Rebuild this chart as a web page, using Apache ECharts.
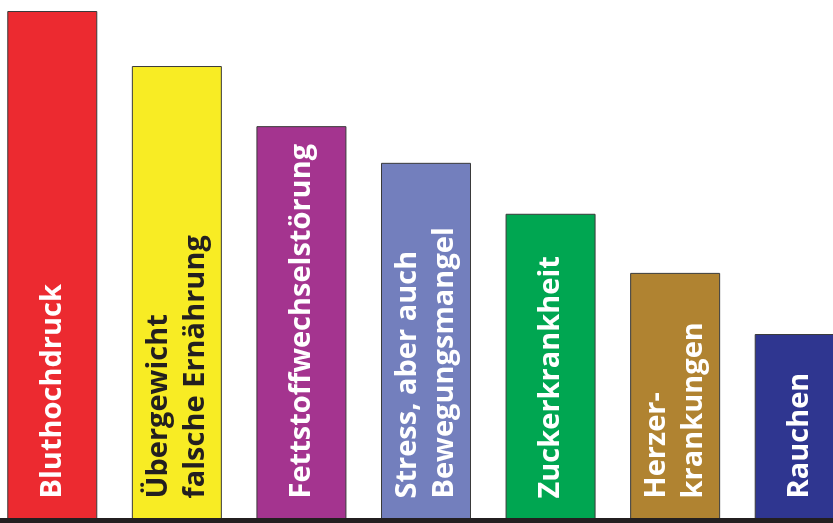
<!DOCTYPE html>
<html>
<head>
<meta charset="utf-8">
<script src="https://cdn.jsdelivr.net/npm/echarts@6/dist/echarts.min.js"></script>
<style>html,body{margin:0;padding:0;background:#fff}#c{width:833px;height:523px}</style>
</head>
<body>
<div id="c"></div>
<script>
const categories = ['Bluthochdruck', 'Übergewicht\nfalsche Ernährung', 'Fettstoffwechselstörung', 'Stress, aber auch\nBewegungsmangel', 'Zuckerkrankheit', 'Herzer-\nkrankungen', 'Rauchen'];
const values = [100, 89.2, 77.4, 70.2, 60.2, 48.6, 36.6];
const barColors = ['#ec2a30', '#f8ec24', '#a4348f', '#737fbd', '#00a651', '#b08331', '#2f3690'];
const labelColors = ['#ffffff', '#231f20', '#ffffff', '#ffffff', '#ffffff', '#ffffff', '#ffffff'];

const chart = echarts.init(document.getElementById('c'), null, {renderer: 'canvas'});
chart.setOption({
  animation: false,
  backgroundColor: '#ffffff',
  grid: {left: -10, right: -29, top: 11, bottom: 2.5, outerBoundsMode: 'none', containLabel: false},
  xAxis: {
    type: 'category',
    data: categories,
    z: 10,
    axisLine: {show: true, lineStyle: {color: '#231f20', width: 5}},
    axisTick: {show: false},
    axisLabel: {show: false},
    splitLine: {show: false}
  },
  yAxis: {
    type: 'value', min: 0, max: 100, show: false,
    splitLine: {show: false}
  },
  series: [{
    type: 'bar',
    barWidth: 90,
    data: values.map((v, i) => ({
      value: v,
      itemStyle: {color: barColors[i], borderColor: '#3a3a3a', borderWidth: 1},
      label: {color: labelColors[i]}
    })),
    label: {
      show: true,
      position: 'insideBottom',
      distance: 22,
      rotate: 90,
      align: 'left',
      verticalAlign: 'middle',
      fontFamily: 'Open Sans',
      fontWeight: 'bold',
      fontSize: 29,
      lineHeight: 37,
      formatter: p => categories[p.dataIndex]
    }
  }]
});
</script>
</body>
</html>
